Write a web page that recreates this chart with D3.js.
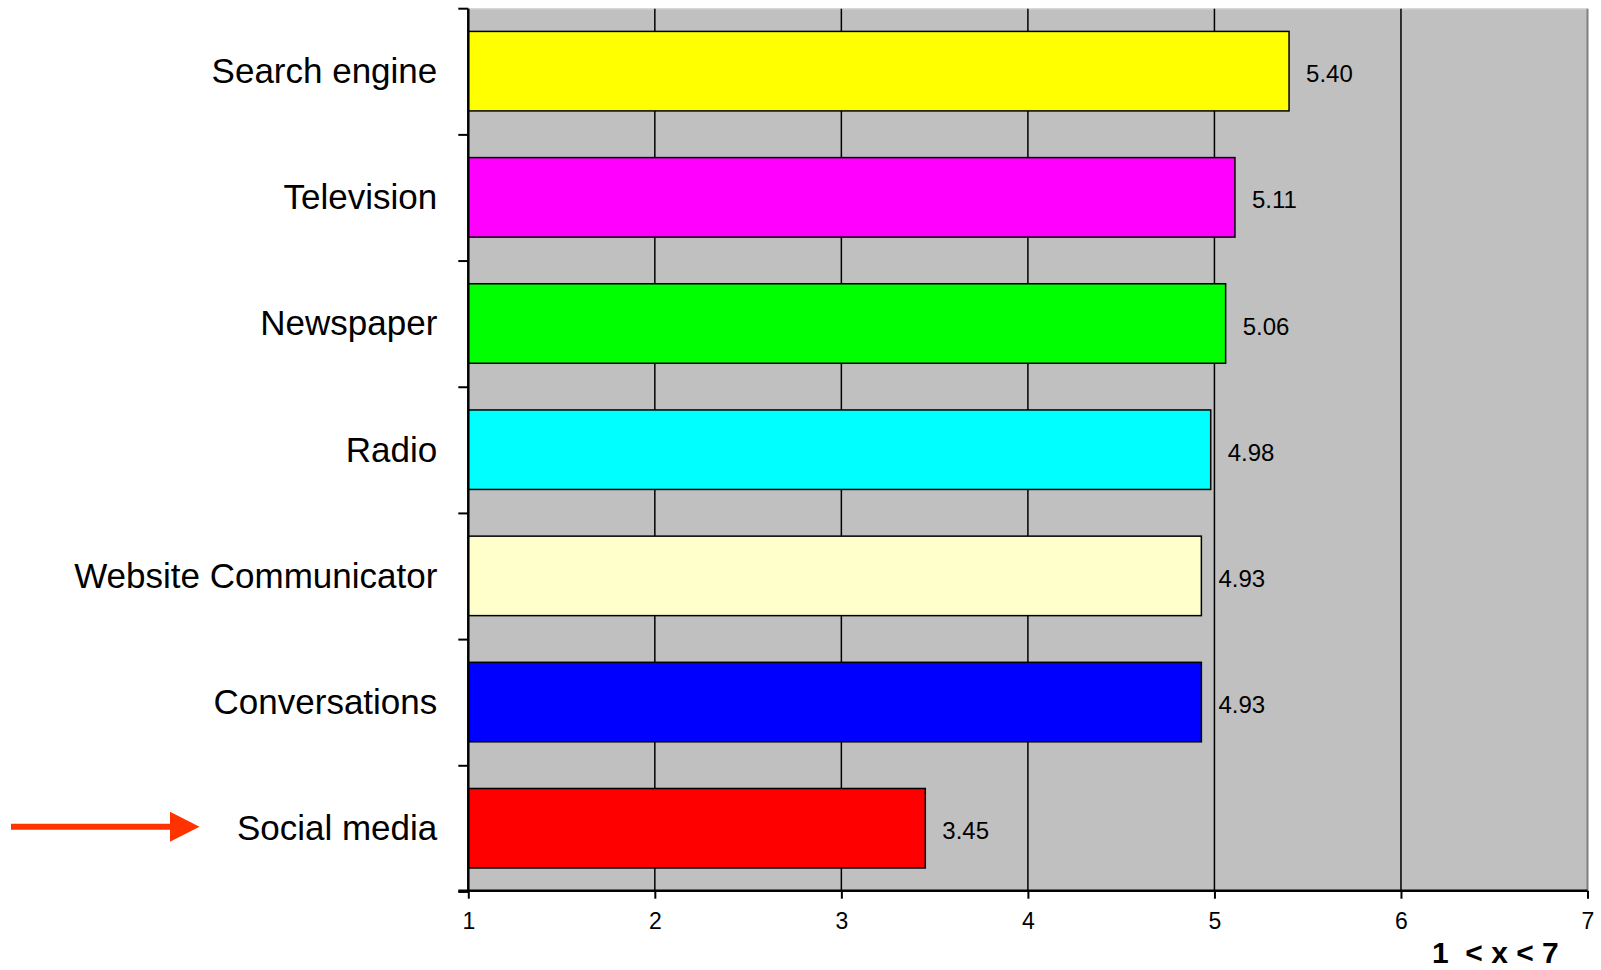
<!DOCTYPE html>
<html>
<head>
<meta charset="utf-8">
<script src="https://cdn.jsdelivr.net/npm/d3@7"></script>
<style>
  html, body { margin: 0; padding: 0; background: #ffffff; }
  svg { display: block; font-family: "Liberation Sans", Arial, sans-serif; }
</style>
</head>
<body>
<svg id="chart" width="1601" height="970"></svg>
<script>
// Mean rating per information source (scale 1–7)
const categories = ["Search engine", "Television", "Newspaper", "Radio",
                    "Website Communicator", "Conversations", "Social media"];
const values = [5.40, 5.11, 5.06, 4.98, 4.93, 4.93, 3.45];
const barColors = ["#ffff00", "#ff00ff", "#00ff00", "#00ffff",
                   "#ffffcc", "#0000ff", "#ff0000"];
const xTicks = [1, 2, 3, 4, 5, 6, 7];
const axisCaption = "1  < x < 7";
const highlighted = "Social media";

const svg = d3.select("#chart");
const plot = { left: 468.3, right: 1587.5, top: 8.7, bottom: 890.7 };

const x = d3.scaleLinear().domain([1, 7]).range([plot.left, plot.right]);
const y = d3.scaleBand().domain(categories)
  .range([plot.top, plot.bottom])
  .paddingInner(0.37).paddingOuter(0.18);

// Plot area background
svg.append("rect")
  .attr("x", plot.left).attr("y", plot.top)
  .attr("width", plot.right - plot.left).attr("height", plot.bottom - plot.top)
  .attr("fill", "#c0c0c0");

// Top and right frame of the plot area
svg.append("line")
  .attr("x1", plot.left).attr("x2", plot.right)
  .attr("y1", plot.top).attr("y2", plot.top)
  .attr("stroke", "#d8d8d8").attr("stroke-width", 1.5);
svg.append("line")
  .attr("x1", plot.right).attr("x2", plot.right)
  .attr("y1", plot.top).attr("y2", plot.bottom)
  .attr("stroke", "#808080").attr("stroke-width", 2);

// Vertical gridlines
svg.append("g").selectAll("line")
  .data(xTicks.filter(t => t > 1 && t < 7))
  .join("line")
  .attr("x1", d => x(d)).attr("x2", d => x(d))
  .attr("y1", plot.top).attr("y2", plot.bottom)
  .attr("stroke", "#000").attr("stroke-width", 1.5);

// Bars
svg.append("g").selectAll("rect")
  .data(categories)
  .join("rect")
  .attr("x", x(1))
  .attr("y", d => y(d))
  .attr("width", (d, i) => x(values[i]) - x(1))
  .attr("height", y.bandwidth())
  .attr("fill", (d, i) => barColors[i])
  .attr("stroke", "#000").attr("stroke-width", 1.5);

// Value labels
svg.append("g").selectAll("text")
  .data(categories)
  .join("text")
  .attr("x", (d, i) => x(values[i]) + 17)
  .attr("y", d => y(d) + y.bandwidth() / 2 + 11)
  .attr("font-size", 24)
  .attr("fill", "#000")
  .text((d, i) => values[i].toFixed(2));

// Bottom axis
const xAxis = d3.axisBottom(x).tickValues(xTicks).tickSize(8).tickPadding(14)
  .tickFormat(d3.format("d"));
const gx = svg.append("g")
  .attr("transform", `translate(0,${plot.bottom})`)
  .call(xAxis);
gx.select(".domain").attr("stroke", "#000").attr("stroke-width", 2.5)
  .attr("d", `M${plot.left - 10},0H${plot.right}`);
gx.selectAll(".tick line").attr("stroke", "#000").attr("stroke-width", 2);
gx.selectAll(".tick text")
  .attr("font-family", "\"Liberation Sans\", Arial, sans-serif")
  .attr("font-size", 23).attr("fill", "#000");

// Left axis: tick marks at band boundaries, labels centred on bands
const yAxis = d3.axisLeft(y).tickSize(0).tickPadding(31);
const gy = svg.append("g")
  .attr("transform", `translate(${plot.left},0)`)
  .call(yAxis);
gy.select(".domain").attr("stroke", "#000").attr("stroke-width", 2.5)
  .attr("d", `M0,${plot.top}V${plot.bottom}`);
gy.selectAll(".tick text")
  .attr("font-family", "\"Liberation Sans\", Arial, sans-serif")
  .attr("font-size", 35).attr("fill", "#000")
  .attr("dy", "0.34em");

const boundaries = d3.range(categories.length + 1)
  .map(i => plot.top + i * y.step());
svg.append("g").selectAll("line")
  .data(boundaries)
  .join("line")
  .attr("x1", plot.left - 10).attr("x2", plot.left)
  .attr("y1", d => d).attr("y2", d => d)
  .attr("stroke", "#000").attr("stroke-width", 2);

// Axis caption
svg.append("text")
  .attr("x", 1432).attr("y", 963)
  .attr("font-size", 30).attr("font-weight", "bold")
  .style("white-space", "pre")
  .text(axisCaption);

// Arrow pointing at the highlighted category
const ay = y(highlighted) + y.bandwidth() / 2 - 1.5;
svg.append("line")
  .attr("x1", 11).attr("x2", 172)
  .attr("y1", ay).attr("y2", ay)
  .attr("stroke", "#ff3300").attr("stroke-width", 6);
svg.append("path")
  .attr("d", `M170,${ay - 15}L199.5,${ay}L170,${ay + 15}Z`)
  .attr("fill", "#ff3300");
</script>
</body>
</html>
